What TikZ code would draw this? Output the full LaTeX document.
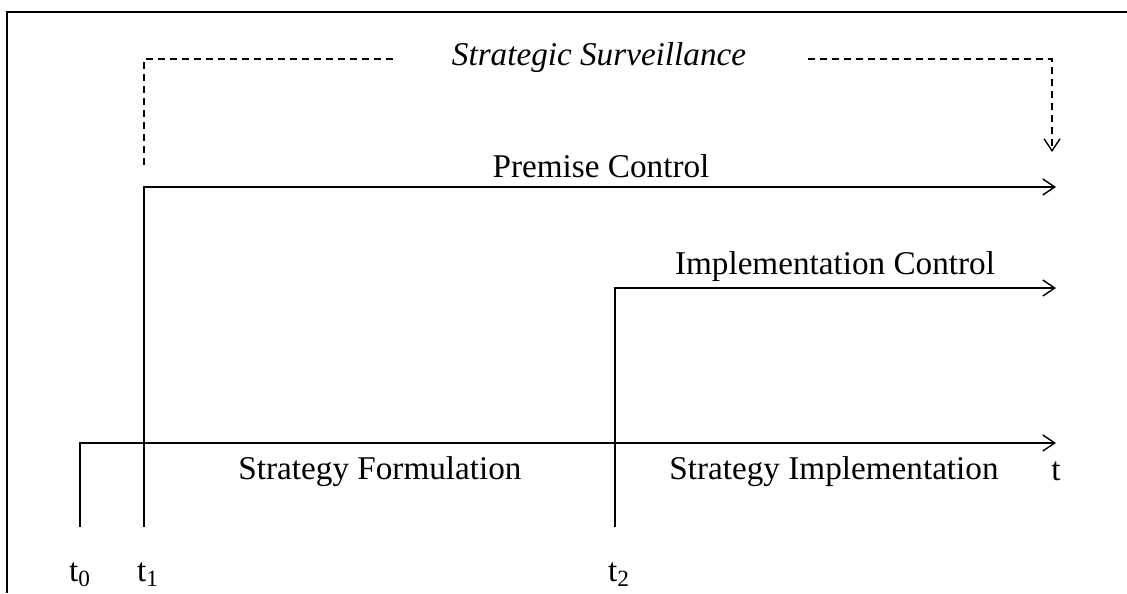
\documentclass[tikz,border=0pt]{standalone}
\usepackage{fontspec}
\setmainfont{Liberation Serif}
\usetikzlibrary{arrows.meta}

\begin{document}
\begin{tikzpicture}[x=0.5pt,y=-0.5pt,line width=0.7pt,
  >={Straight Barb[length=6pt,width=8pt]},
  lbl/.style={inner sep=0pt,font=\fontsize{16.6}{20}\selectfont},
  surv/.style={dashed,dash pattern=on 3.5pt off 2.5pt}]
\useasboundingbox (0,0) rectangle (1127,593);
% frame
\draw[line width=1pt] (7,593) -- (7,12) -- (1127,12);

% time points
\coordinate (b0) at (80,527);
\coordinate (b1) at (144,527);
\coordinate (b2) at (615,527);
\node[lbl] (t0) at (80,575) {t\textsubscript{0}};
\node[lbl] (t1) at (148,575) {t\textsubscript{1}};
\node[lbl] (t2) at (619,575) {t\textsubscript{2}};

% time axis
\coordinate (a0) at (80,443);
\coordinate (aend) at (1056,443);
\draw[->] (b0) -- (a0) -- (aend);
\node[lbl] (t) at (1056,471) {t};
\node[lbl] (form) at (380,472) {Strategy Formulation};
\node[lbl] (impl) at (834,472) {Strategy Implementation};

% premise control
\coordinate (p0) at (144,187);
\coordinate (pend) at (1056,187);
\draw[->] (b1) -- (p0) -- (pend);
\node[lbl] (prem) at (601,166) {Premise Control};

% implementation control
\coordinate (i0) at (615,288);
\coordinate (iend) at (1056,288);
\draw[->] (b2) -- (i0) -- (iend);
\node[lbl] (impc) at (835,267) {Implementation Control};

% strategic surveillance
\node[lbl,font=\fontsize{16.6}{20}\selectfont\itshape] (sv) at (599,58) {Strategic Surveillance};
\coordinate (s0) at (144,165);
\coordinate (s1) at (144,59);
\coordinate (s2) at (395,59);
\coordinate (s3) at (808,59);
\coordinate (s4) at (1052,59);
\coordinate (s5) at (1052,152);
\draw[surv] (s0) -- (s1) -- (s2);
\draw[surv,->] (s3) -- (s4) -- (s5);
\end{tikzpicture}
\end{document}
